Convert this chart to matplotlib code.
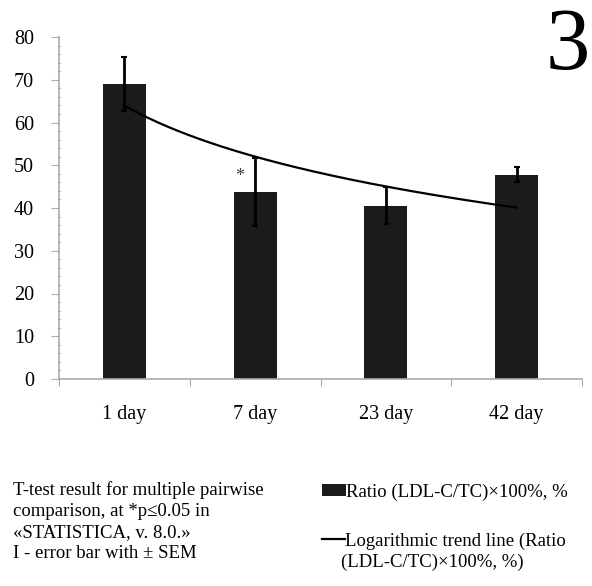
import numpy as np
import matplotlib
matplotlib.use("Agg")
import matplotlib.pyplot as plt
from matplotlib.ticker import MultipleLocator

plt.rcParams['font.family'] = ['Liberation Serif', 'DejaVu Serif']

# data
categories = ['1 day', '7 day', '23 day', '42 day']
ratio = [69.0, 43.8, 40.5, 47.8]
sem = [6.4, 8.0, 4.3, 1.8]
star_idx = 1  # significant at p<=0.05

bar_label = 'Ratio (LDL-C/TC)\u00d7100%, %'
trend_label = 'Logarithmic trend line (Ratio'
trend_label2 = '(LDL-C/TC)\u00d7100%, %)'
note = ('T-test result for multiple pairwise\n'
        'comparison, at *p\u22640.05 in\n'
        '\u00abSTATISTICA, v. 8.0.\u00bb\n'
        'I - error bar with \u00b1 SEM')

fig = plt.figure(figsize=(5.92, 5.86), dpi=100)
ax = fig.add_axes([59 / 592, 1 - 379 / 586, (582 - 59) / 592, (379 - 37) / 586])

x = np.arange(len(categories))
bars = ax.bar(x, ratio, width=0.33, color='#1b1b1b', zorder=2)
ax.errorbar(x, ratio, yerr=sem, fmt='none', ecolor='black', elinewidth=2,
            capsize=2, capthick=1.5, zorder=3)

# logarithmic trend line, fitted like in Excel: y = a + b*ln(n)
n = x + 1
b, a = np.polyfit(np.log(n), ratio, 1)
xs = np.linspace(0, len(categories) - 1, 200)
trend, = ax.plot(xs, a + b * np.log(xs + 1), color='black', lw=1.6, zorder=4)

ax.text(star_idx - 0.12, ratio[star_idx] + 3.6, '*', ha='center', va='center',
        fontsize=13, color='#3a4050')

ax.set_xlim(-0.5, len(categories) - 0.5)
ax.set_ylim(0, 80)
ax.yaxis.set_major_locator(MultipleLocator(10))
ax.yaxis.set_minor_locator(MultipleLocator(2))
ax.set_xticks(np.arange(len(categories) + 1) - 0.5)
ax.set_xticklabels([])
ax.set_xticks(x, minor=True)
ax.set_xticklabels(categories, minor=True, fontsize=14.5)
ax.tick_params(axis='x', which='minor', length=0, pad=19)
ax.tick_params(axis='x', which='major', length=5, color='#aaaaaa', direction='out')
ax.tick_params(axis='y', which='major', length=6, color='#aaaaaa', labelsize=14.5, pad=12)
ax.tick_params(axis='y', which='minor', length=3, color='#bbbbbb', direction='inout')

for side in ['top', 'right']:
    ax.spines[side].set_visible(False)
for side in ['left', 'bottom']:
    ax.spines[side].set_color('#aaaaaa')
    ax.spines[side].set_linewidth(1.2)

fig.text(590 / 592, 1 - 7 / 586, '3', fontsize=64, va='top', ha='right')

fig.text(13 / 592, 1 - 481 / 586, note, fontsize=13.5, va='top', ha='left',
         linespacing=1.32)

fig.legend([bars], [bar_label], loc='center left',
           bbox_to_anchor=(322 / 592, 1 - 492 / 586), frameon=False,
           fontsize=13.5, handlelength=1.3, handleheight=0.55, handletextpad=0.0,
           borderaxespad=0, borderpad=0)
fig.legend([trend], [trend_label], loc='center left',
           bbox_to_anchor=(322 / 592, 1 - 541 / 586), frameon=False,
           fontsize=13.5, handlelength=1.25, handletextpad=0.0,
           borderaxespad=0, borderpad=0)
fig.text(341 / 592, 1 - 562 / 586, trend_label2, fontsize=13.5, va='center', ha='left')

fig.savefig('out.png', dpi=100)
